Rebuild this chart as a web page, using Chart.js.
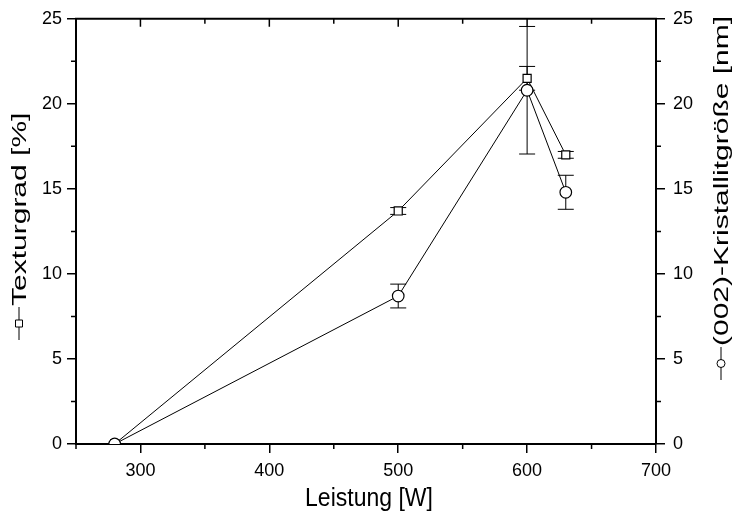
<!DOCTYPE html>
<html>
<head>
<meta charset="utf-8">
<script src="https://cdn.jsdelivr.net/npm/chart.js@4/dist/chart.umd.min.js"></script>
<style>
  html, body { margin: 0; padding: 0; background: #fff; }
  #wrap { width: 735px; height: 517px; }
</style>
</head>
<body>
<div id="wrap"><canvas id="c" width="735" height="517"></canvas></div>
<script>
// Sputter power [W]
const leistung = [280, 500, 600, 630];
// Texture degree [%] and its error
const texturgrad = [0, 13.7, 21.5, 17.0];
const texturgradErr = [0, 0.2, 0.7, 0.2];
// (002) crystallite size [nm] and its error
const kristallit = [0, 8.7, 20.8, 14.8];
const kristallitErr = [0, 0.7, 3.75, 1.0];
// Axis ticks
const xTicks = [300, 400, 500, 600, 700];
const xMinor = [250, 350, 450, 550, 650];
const yTicks = [0, 5, 10, 15, 20, 25];
const yMinor = [2.5, 7.5, 12.5, 17.5, 22.5];

const FONT = "'Liberation Sans', Arial, sans-serif";
const NARROW = "'Liberation Sans Narrow', 'Arial Narrow', 'Liberation Sans', Arial, sans-serif";
const tickFont = { family: NARROW, size: 18 };

const errors = [texturgradErr, kristallitErr];

const errorBars = {
  id: 'errorBars',
  beforeDatasetsDraw(chart) {
    const ctx = chart.ctx;
    ctx.save();
    ctx.strokeStyle = '#000';
    ctx.lineWidth = 1;
    chart.data.datasets.forEach((ds, i) => {
      const ys = chart.scales[ds.yAxisID];
      const xs = chart.scales.x;
      const err = errors[i];
      ds.data.forEach((p, j) => {
        if (!err[j]) return;
        const x = xs.getPixelForValue(p.x);
        const y1 = ys.getPixelForValue(p.y - err[j]);
        const y2 = ys.getPixelForValue(p.y + err[j]);
        const cap = 8;
        ctx.beginPath();
        ctx.moveTo(x, y1); ctx.lineTo(x, y2);
        ctx.moveTo(x - cap, y1); ctx.lineTo(x + cap, y1);
        ctx.moveTo(x - cap, y2); ctx.lineTo(x + cap, y2);
        ctx.stroke();
      });
    });
    ctx.restore();
  }
};

function legendSymbol(ctx, len, kind) {
  // short line with a marker in the middle, drawn along +x
  ctx.beginPath();
  ctx.moveTo(0, 0); ctx.lineTo(len, 0);
  ctx.stroke();
  ctx.beginPath();
  if (kind === 'rect') {
    ctx.rect(len / 2 - 3.5, -3.5, 7, 7);
  } else {
    ctx.arc(len / 2, 0, 4, 0, Math.PI * 2);
  }
  ctx.fillStyle = '#fff';
  ctx.fill();
  ctx.stroke();
}

// rotated title: symbol at the bottom, text running upwards, stretched along its baseline
function sideTitle(ctx, x, yBottom, kind, text, stretch) {
  ctx.save();
  ctx.translate(x, yBottom);
  ctx.rotate(-Math.PI / 2);
  legendSymbol(ctx, 33, kind);
  ctx.translate(34, 1);
  ctx.scale(stretch, 1);
  ctx.fillStyle = '#000';
  ctx.fillText(text, 0, 0);
  ctx.restore();
}

const frame = {
  id: 'frame',
  afterDraw(chart) {
    const ctx = chart.ctx;
    const a = chart.chartArea;
    const xs = chart.scales.x, yl = chart.scales.y, yr = chart.scales.y1;
    ctx.save();
    ctx.strokeStyle = '#000';
    // top axis line
    ctx.lineWidth = 2;
    ctx.beginPath();
    ctx.moveTo(a.left - 1, a.top); ctx.lineTo(a.right + 1, a.top);
    ctx.stroke();
    ctx.lineWidth = 1.5;
    ctx.beginPath();
    xTicks.forEach(v => { const x = xs.getPixelForValue(v); ctx.moveTo(x, a.top); ctx.lineTo(x, a.top + 8); });
    xMinor.forEach(v => {
      const x = xs.getPixelForValue(v);
      ctx.moveTo(x, a.top); ctx.lineTo(x, a.top + 5);
      ctx.moveTo(x, a.bottom); ctx.lineTo(x, a.bottom + 5);
    });
    yMinor.forEach(v => {
      const y = yl.getPixelForValue(v);
      ctx.moveTo(a.left, y); ctx.lineTo(a.left - 5, y);
      const y2 = yr.getPixelForValue(v);
      ctx.moveTo(a.right, y2); ctx.lineTo(a.right + 5, y2);
    });
    ctx.stroke();

    // axis titles
    ctx.fillStyle = '#000';
    ctx.font = '23px ' + FONT;
    ctx.textBaseline = 'middle';
    ctx.textAlign = 'center';
    ctx.save();
    ctx.translate((a.left + a.right) / 2 + 3, 499);
    ctx.scale(1, 1.1);
    ctx.fillText('Leistung [W]', 0, 0);
    ctx.restore();

    ctx.lineWidth = 1;
    ctx.textAlign = 'left';
    ctx.font = '20px ' + FONT;
    sideTitle(ctx, 19, 340, 'rect', 'Texturgrad [%]', 1.5);
    sideTitle(ctx, 721, 380, 'circle', '(002)-Kristallitgröße [nm]', 1.5);
    ctx.restore();
  }
};

const axisGrid = { display: true, drawOnChartArea: false, drawTicks: true, tickLength: 9, color: '#000', lineWidth: 1.5 };
const axisBorder = { display: true, color: '#000', width: 2 };

new Chart(document.getElementById('c'), {
  type: 'line',
  data: {
    datasets: [
      {
        label: 'Texturgrad [%]',
        data: leistung.map((x, i) => ({ x, y: texturgrad[i] })),
        yAxisID: 'y',
        order: 1,
        borderColor: '#000', borderWidth: 1, tension: 0,
        pointStyle: 'rect', pointRadius: 5.7, pointHoverRadius: 5.7,
        pointBackgroundColor: '#fff', pointBorderColor: '#000', pointBorderWidth: 1.2
      },
      {
        label: '(002)-Kristallitgröße [nm]',
        data: leistung.map((x, i) => ({ x, y: kristallit[i] })),
        yAxisID: 'y1',
        order: 0,
        borderColor: '#000', borderWidth: 1, tension: 0,
        pointStyle: 'circle', pointRadius: 5.8, pointHoverRadius: 5.8,
        pointBackgroundColor: '#fff', pointBorderColor: '#000', pointBorderWidth: 1.2
      }
    ]
  },
  options: {
    responsive: false,
    animation: false,
    devicePixelRatio: 1,
    layout: { padding: { top: 15, left: 0, right: 0, bottom: 0 } },
    plugins: { legend: { display: false }, tooltip: { enabled: false } },
    scales: {
      x: {
        type: 'linear', position: 'bottom', min: 250, max: 700,
        grid: axisGrid, border: axisBorder,
        afterBuildTicks: s => { s.ticks = xTicks.map(v => ({ value: v })); },
        afterFit: s => { s.height = 73; },
        ticks: { font: tickFont, color: '#000', padding: 7, maxRotation: 0 }
      },
      y: {
        type: 'linear', position: 'left', min: 0, max: 25,
        grid: axisGrid, border: axisBorder,
        afterBuildTicks: s => { s.ticks = yTicks.map(v => ({ value: v })); },
        afterFit: s => { s.width = 76; },
        ticks: { font: tickFont, color: '#000', padding: 5 }
      },
      y1: {
        type: 'linear', position: 'right', min: 0, max: 25,
        grid: axisGrid, border: axisBorder,
        afterBuildTicks: s => { s.ticks = yTicks.map(v => ({ value: v })); },
        afterFit: s => { s.width = 79; },
        ticks: { font: tickFont, color: '#000', padding: 8 }
      }
    }
  },
  plugins: [errorBars, frame]
});
</script>
</body>
</html>
